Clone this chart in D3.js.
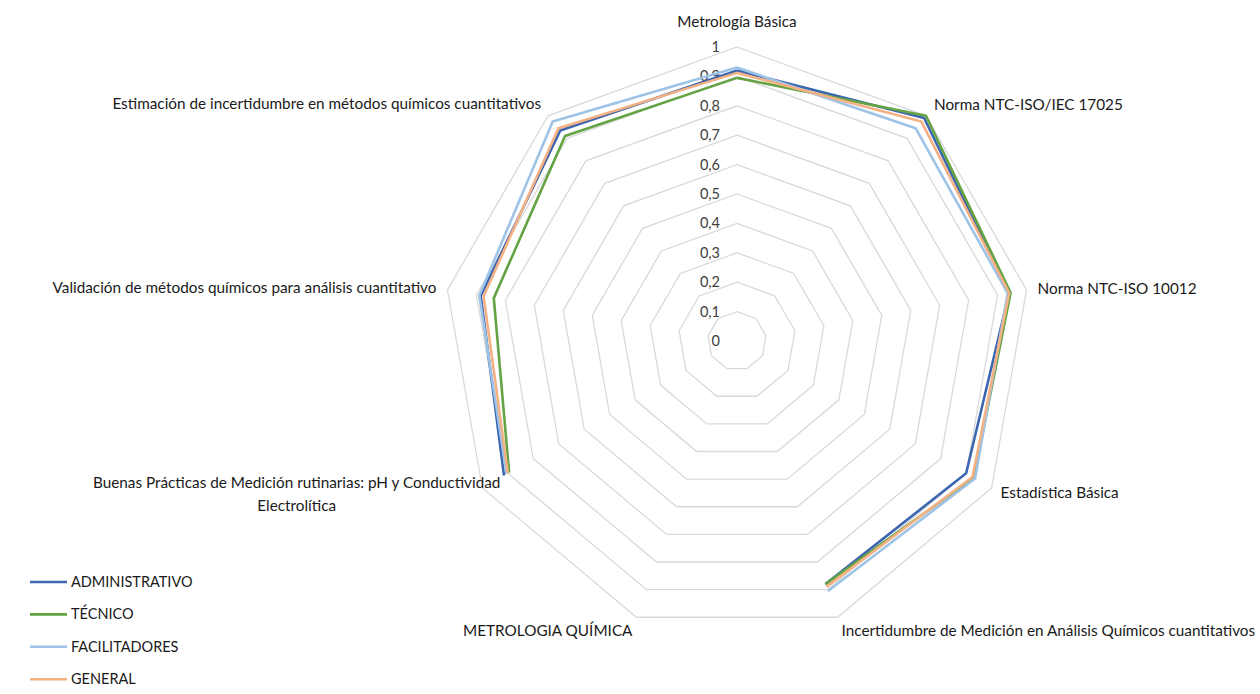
<!DOCTYPE html>
<html>
<head>
<meta charset="utf-8">
<script src="https://cdn.jsdelivr.net/npm/d3@7"></script>
<style>
  html, body { margin: 0; padding: 0; background: #fff; }
  svg { display: block; }
  text { font-family: Lato, "Liberation Sans", Arial, sans-serif; }
</style>
</head>
<body>
<svg id="chart" width="1260" height="694"></svg>
<script>
// Radar axes, clockwise from the top
const categories = [
  "Metrología Básica",
  "Norma NTC-ISO/IEC 17025",
  "Norma NTC-ISO 10012",
  "Estadística Básica",
  "Incertidumbre de Medición en Análisis Químicos cuantitativos",
  "METROLOGIA QUÍMICA",
  ["Buenas Prácticas de Medición rutinarias: pH y Conductividad", "Electrolítica"],
  "Validación de métodos químicos para análisis cuantitativo",
  "Estimación de incertidumbre en métodos químicos cuantitativos"
];

// Scores per group (null = no value for that axis)
const administrativo = [0.92, 0.99, 0.94, 0.90, 0.88, null, 0.915, 0.885, 0.935];
const tecnico        = [0.895, 1.00, 0.945, 0.93, 0.88, null, 0.895, 0.84, 0.91];
const facilitadores  = [0.93, 0.945, 0.935, 0.935, 0.905, null, 0.905, 0.89, 0.975];
const general        = [0.912, 0.975, 0.94, 0.925, 0.89, null, 0.90, 0.875, 0.945];

const seriesNames = ["ADMINISTRATIVO", "TÉCNICO", "FACILITADORES", "GENERAL"];
const seriesColors = ["#3D66B0", "#63A343", "#9DC3E6", "#F4B183"];
const seriesValues = [administrativo, tecnico, facilitadores, general];

const tickValues = [0, 0.1, 0.2, 0.3, 0.4, 0.5, 0.6, 0.7, 0.8, 0.9, 1];
const tickLabels = ["0", "0,1", "0,2", "0,3", "0,4", "0,5", "0,6", "0,7", "0,8", "0,9", "1"];

const svg = d3.select("#chart");
const cx = 737, cy = 341, R = 294;
const n = categories.length;
const step = 2 * Math.PI / n;
const fontSize = "14.5px";
const catFontSize = "15.3px";

const r = d3.scaleLinear().domain([0, 1]).range([0, R]);
const angle = i => i * step;
const px = (i, v) => r(v) * Math.sin(angle(i));
const py = (i, v) => -r(v) * Math.cos(angle(i));

const g = svg.append("g").attr("transform", `translate(${cx},${cy})`);

// Polygon grid rings
const ringLine = d3.lineRadial()
  .angle(d => d.a)
  .radius(d => r(d.v))
  .curve(d3.curveLinearClosed);

g.append("g").selectAll("path")
  .data(tickValues.filter(v => v > 0))
  .join("path")
  .attr("d", v => ringLine(d3.range(n).map(i => ({ a: angle(i), v }))))
  .attr("fill", "none")
  .attr("stroke", "#d9d9d9")
  .attr("stroke-width", 1.3);

// Value tick labels along the top axis
g.append("g").selectAll("text")
  .data(tickValues)
  .join("text")
  .attr("x", -17)
  .attr("y", v => -r(v))
  .attr("dy", "0.35em")
  .attr("text-anchor", "end")
  .attr("fill", "#404040")
  .style("font-size", fontSize)
  .text((v, i) => tickLabels[i]);

// Series lines; the first axis is repeated at the end to close the shape,
// and missing values break the line.
const seriesLine = d3.lineRadial()
  .defined(d => d.v != null)
  .angle(d => d.a)
  .radius(d => r(d.v));

seriesValues.forEach((vals, s) => {
  const pts = vals.map((v, i) => ({ a: angle(i), v }));
  pts.push({ a: angle(n), v: vals[0] });
  g.append("path")
    .attr("d", seriesLine(pts))
    .attr("fill", "none")
    .attr("stroke", seriesColors[s])
    .attr("stroke-width", 2.6)
    .attr("stroke-linejoin", "round");
});

// Category labels around the outer ring
const labelStyle = [
  { dx: 0,  dy: -25, anchor: "middle" },
  { dx: 8,  dy: -11, anchor: "start" },
  { dx: 11, dy: -1,  anchor: "start" },
  { dx: 9,  dy: 5,   anchor: "start" },
  { dx: 4,  dy: 13,  anchor: "start" },
  { dx: -4, dy: 13,  anchor: "end" },
  { dx: 18, dy: -5,  anchor: "end" },
  { dx: -11, dy: -2, anchor: "end" },
  { dx: -7, dy: -12, anchor: "end" }
];

categories.forEach((c, i) => {
  const st = labelStyle[i];
  const x = px(i, 1) + st.dx;
  const y = py(i, 1) + st.dy;
  const lines = Array.isArray(c) ? c : [c];
  const t = g.append("text")
    .attr("x", x).attr("y", y)
    .attr("text-anchor", st.anchor)
    .attr("fill", "#1a1a1a")
    .style("font-size", catFontSize);
  if (lines.length === 1) {
    t.attr("dy", "0.35em").text(lines[0]);
  } else {
    // First line right-aligned at the anchor, following lines centred under it
    const first = t.append("tspan").attr("x", x).attr("dy", "0.35em").text(lines[0]);
    const w = first.node().getComputedTextLength();
    t.attr("text-anchor", "middle");
    first.attr("x", x - w / 2);
    lines.slice(1).forEach(l => {
      t.append("tspan").attr("x", x - w / 2).attr("dy", "1.45em").text(l);
    });
  }
});

// Legend
const legend = svg.append("g").attr("transform", "translate(30,582)");
seriesNames.forEach((name, s) => {
  const row = legend.append("g").attr("transform", `translate(0,${s * 32.4})`);
  row.append("line")
    .attr("x1", 0).attr("x2", 37)
    .attr("y1", 0).attr("y2", 0)
    .attr("stroke", seriesColors[s])
    .attr("stroke-width", 2.6);
  row.append("text")
    .attr("x", 41).attr("y", 0).attr("dy", "0.35em")
    .attr("fill", "#1a1a1a")
    .style("font-size", fontSize)
    .text(name);
});
</script>
</body>
</html>
